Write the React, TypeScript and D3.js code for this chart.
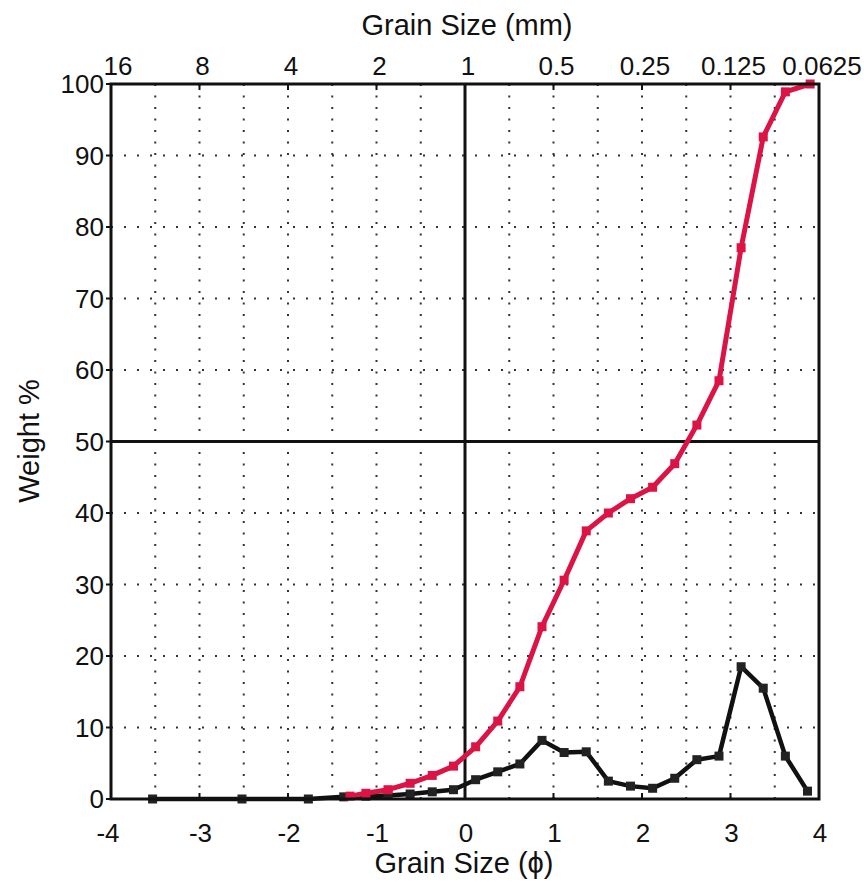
import React from "react";
import * as d3 from "d3";

const phiTicks = [-4, -3, -2, -1, 0, 1, 2, 3, 4];
const mmLabels = ["16", "8", "4", "2", "1", "0.5", "0.25", "0.125", "0.0625"];
const weightTicks = [0, 10, 20, 30, 40, 50, 60, 70, 80, 90, 100];

const freqPhi = [-3.53, -2.52, -1.77, -1.37, -1.12, -0.87, -0.62, -0.37, -0.13, 0.12, 0.37, 0.62, 0.87, 1.12, 1.37, 1.62, 1.87, 2.12, 2.37, 2.62, 2.87, 3.12, 3.37, 3.62, 3.87];
const freqVal = [0, 0, 0, 0.3, 0.4, 0.5, 0.7, 1.0, 1.3, 2.7, 3.8, 4.9, 8.2, 6.5, 6.6, 2.5, 1.8, 1.5, 2.9, 5.5, 6.0, 18.5, 15.5, 6.0, 1.1];

const cumPhi = [-1.3, -1.12, -0.87, -0.62, -0.37, -0.13, 0.12, 0.37, 0.62, 0.87, 1.12, 1.37, 1.62, 1.87, 2.12, 2.37, 2.62, 2.87, 3.12, 3.37, 3.62, 3.9];
const cumVal = [0.4, 0.8, 1.3, 2.2, 3.3, 4.6, 7.3, 10.9, 15.7, 24.1, 30.6, 37.5, 40.0, 42.0, 43.6, 46.9, 52.3, 58.5, 77.1, 92.6, 98.9, 100];

const W = 864, H = 888;
const FONT = "'Liberation Sans', Arial, sans-serif";

export default function App() {
  const x = d3.scaleLinear().domain([-4, 4]).range([111, 819]);
  const y = d3.scaleLinear().domain([0, 100]).range([799, 84]);
  const line = d3.line<[number, number]>().x(d => x(d[0])).y(d => y(d[1]));
  const freq = freqPhi.map((p, i) => [p, freqVal[i]] as [number, number]);
  const cum = cumPhi.map((p, i) => [p, cumVal[i]] as [number, number]);
  const gridX = d3.range(-3.5, 4, 0.5).filter(v => Math.abs(v) > 1e-6);
  const gridY = weightTicks.filter(v => v !== 0 && v !== 100 && v !== 50);
  const red = "#dc1446";
  const ms = 9;
  return (
    <svg width={W} height={H} style={{ position: "absolute", left: 0, top: 0, background: "#fff" }} fontFamily={FONT}>
      <rect x={0} y={0} width={W} height={H} fill="#fff" />
      {gridX.map(v => (
        <line key={"gx" + v} x1={x(v)} x2={x(v)} y1={y(100)} y2={y(0)} stroke="#333" strokeWidth={2} strokeDasharray="2 9.5" />
      ))}
      {gridY.map(v => (
        <line key={"gy" + v} x1={x(-4)} x2={x(4)} y1={y(v)} y2={y(v)} stroke="#333" strokeWidth={2} strokeDasharray="2 11" />
      ))}
      <line x1={x(0)} x2={x(0)} y1={y(100)} y2={y(0)} stroke="#111" strokeWidth={3} />
      <line x1={x(-4)} x2={x(4)} y1={y(50)} y2={y(50)} stroke="#111" strokeWidth={3} />
      {weightTicks.map(v => (
        <g key={"yt" + v}>
          <line x1={x(-4) - 5} x2={x(-4)} y1={y(v)} y2={y(v)} stroke="#111" strokeWidth={2} />
          <text x={104} y={y(v)} dy="0.36em" textAnchor="end" fontSize={26} fill="#111">{v}</text>
        </g>
      ))}
      {phiTicks.map((v, i) => (
        <g key={"xt" + v}>
          <line x1={x(v)} x2={x(v)} y1={y(100)} y2={y(100) + 6} stroke="#111" strokeWidth={2} />
          <line x1={x(v)} x2={x(v)} y1={y(0)} y2={y(0) - 6} stroke="#111" strokeWidth={2} />
          <text x={x(v) + (i === 0 ? -3 : 1)} y={842} textAnchor="middle" fontSize={26} fill="#111">{v < 0 ? "-" + Math.abs(v) : v}</text>
          <text x={x(v) + (i === 0 ? 7 : 3)} y={75} textAnchor="middle" fontSize={26} fill="#111">{mmLabels[i]}</text>
        </g>
      ))}
      <path d={line(freq) || ""} fill="none" stroke="#111" strokeWidth={4.5} strokeLinejoin="round" />
      {freq.map((d, i) => (
        <rect key={"fm" + i} x={x(d[0]) - ms / 2} y={y(d[1]) - ms / 2} width={ms} height={ms} fill="#222" />
      ))}
      <path d={line(cum) || ""} fill="none" stroke={red} strokeWidth={5} strokeLinejoin="round" />
      {cum.map((d, i) => (
        <rect key={"cm" + i} x={x(d[0]) - ms / 2} y={y(d[1]) - ms / 2} width={ms} height={ms} fill={red} />
      ))}
      <rect x={x(-4)} y={y(100)} width={x(4) - x(-4)} height={y(0) - y(100)} fill="none" stroke="#111" strokeWidth={3} />
      <text x={467} y={35} textAnchor="middle" fontSize={29} fill="#111">Grain Size (mm)</text>
      <text x={464} y={873} textAnchor="middle" fontSize={29} fill="#111">Grain Size (ϕ)</text>
      <text transform={`translate(39,441) rotate(-90)`} textAnchor="middle" fontSize={29} fill="#111">Weight %</text>
    </svg>
  );
}
